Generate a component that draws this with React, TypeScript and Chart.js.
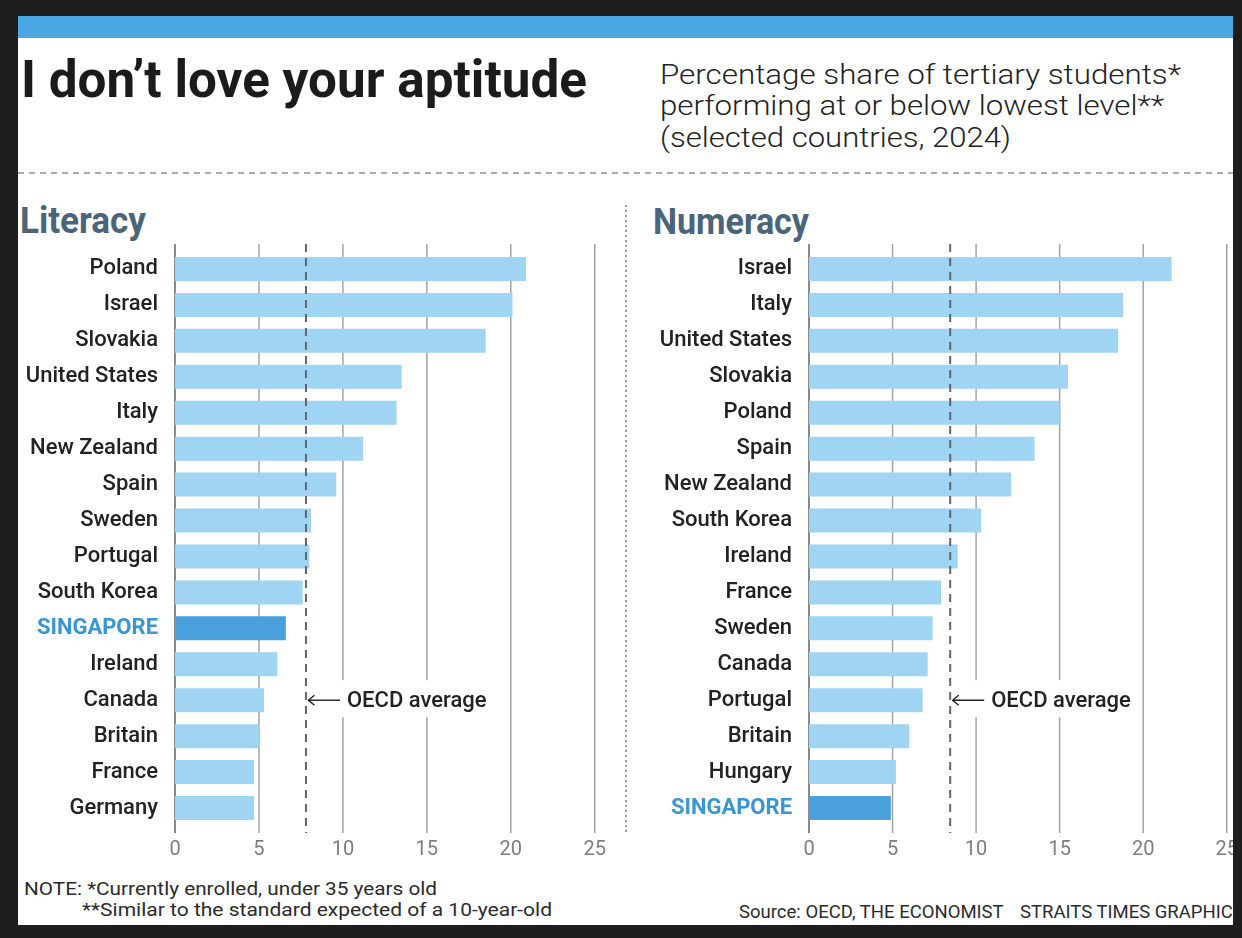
import React, { useEffect, useRef } from "react";
import { Chart, registerables } from "chart.js";

Chart.register(...registerables);

// ---------- DATA ----------
const literacyCountries = [
  "Poland", "Israel", "Slovakia", "United States", "Italy", "New Zealand", "Spain", "Sweden",
  "Portugal", "South Korea", "SINGAPORE", "Ireland", "Canada", "Britain", "France", "Germany",
];
const literacyValues = [20.9, 20.1, 18.5, 13.5, 13.2, 11.2, 9.6, 8.1, 8.0, 7.6, 6.6, 6.1, 5.3, 5.0, 4.7, 4.7];

const numeracyCountries = [
  "Israel", "Italy", "United States", "Slovakia", "Poland", "Spain", "New Zealand", "South Korea",
  "Ireland", "France", "Sweden", "Canada", "Portugal", "Britain", "Hungary", "SINGAPORE",
];
const numeracyValues = [21.7, 18.8, 18.5, 15.5, 15.0, 13.5, 12.1, 10.3, 8.9, 7.9, 7.4, 7.1, 6.8, 6.0, 5.2, 4.9];

const xTickValues = [0, 5, 10, 15, 20, 25];
const literacyOecdAverage = 7.8;
const numeracyOecdAverage = 8.45;
const oecdLabelRow = 12;
const oecdLabel = "OECD average";
const highlightCountry = "SINGAPORE";

const titleText = "I don\u2019t love your aptitude";
const subtitleLines = [
  "Percentage share of tertiary students*",
  "performing at or below lowest level**",
  "(selected countries, 2024)",
];
const noteLines = [
  "NOTE: *Currently enrolled, under 35 years old",
  "**Similar to the standard expected of a 10-year-old",
];
const sourceText = "Source: OECD, THE ECONOMIST";
const creditText = "STRAITS TIMES GRAPHICS";

// ---------- STYLE ----------
const FONT = "Roboto";
const OX = 18; // panel offset on page
const OY = 16;
const BAR_LIGHT = "#9fd4f3";
const BAR_HIGHLIGHT = "#4aa0da";
const LABEL_HIGHLIGHT = "#3a96d2";
const HEAD_COLOR = "#4a647a";

let measureCtx: CanvasRenderingContext2D | null = null;
function measure(text: string, font: string): number {
  if (!measureCtx) measureCtx = document.createElement("canvas").getContext("2d");
  measureCtx!.font = font;
  return measureCtx!.measureText(text).width;
}

function FitText(props: {
  text: string; x: number; baseline: number; size: number; weight?: number;
  color?: string; width?: number; scale?: number;
}) {
  const { text, x, baseline, size, weight = 400, color = "#222", width, scale } = props;
  const natural = measure(text, `${weight} ${size}px ${FONT}`);
  const sx = width ? width / natural : scale ?? 1;
  return (
    <div
      style={{
        position: "absolute",
        left: x - OX,
        top: baseline - 0.842 * size - OY,
        fontFamily: FONT,
        fontSize: size,
        fontWeight: weight,
        lineHeight: `${size}px`,
        color,
        whiteSpace: "nowrap",
        transform: `scaleX(${sx})`,
        transformOrigin: "0 0",
      }}
    >
      {text}
    </div>
  );
}

function BarPanel(props: {
  labels: string[]; values: number[]; avg: number;
  left: number; top: number; width: number; height: number;
  axisWidth: number; padRight: number; padTop: number;
}) {
  const { labels, values, avg, left, top, width, height, axisWidth, padRight, padTop } = props;
  const ref = useRef<HTMLCanvasElement>(null);

  useEffect(() => {
    const canvas = ref.current!;
    const overlay = {
      id: "overlay",
      beforeDatasetsDraw(chart: any) {
        const { ctx, chartArea, scales } = chart;
        ctx.save();
        for (const v of xTickValues) {
          const px = scales.x.getPixelForValue(v);
          ctx.beginPath();
          ctx.lineWidth = v === 0 ? 2 : 1.5;
          ctx.strokeStyle = v === 0 ? "#8a8a8a" : "#a3a3a3";
          ctx.moveTo(px, chartArea.top - 7);
          ctx.lineTo(px, chartArea.bottom + 7);
          ctx.stroke();
        }
        ctx.restore();
      },
      afterDatasetsDraw(chart: any) {
        const { ctx, chartArea, scales } = chart;
        const px = scales.x.getPixelForValue(avg);
        const py = scales.y.getPixelForValue(oecdLabelRow);
        ctx.save();
        ctx.font = `500 22px ${FONT}`;
        const tw = ctx.measureText(oecdLabel).width;
        const arrowStart = px + 2.5;
        const arrowEnd = px + 34;
        const textX = px + 41;
        ctx.fillStyle = "#ffffff";
        ctx.fillRect(px + 2, py - 20, textX + tw + 6 - (px + 2), 37);
        ctx.setLineDash([8, 6]);
        ctx.strokeStyle = "#5f6770";
        ctx.lineWidth = 2;
        ctx.beginPath();
        ctx.moveTo(px, chartArea.top - 7);
        ctx.lineTo(px, chartArea.bottom + 7);
        ctx.stroke();
        ctx.setLineDash([]);
        ctx.strokeStyle = "#222";
        ctx.lineWidth = 1.4;
        ctx.beginPath();
        ctx.moveTo(arrowEnd, py);
        ctx.lineTo(arrowStart, py);
        ctx.stroke();
        ctx.beginPath();
        ctx.moveTo(arrowStart + 6, py - 5);
        ctx.lineTo(arrowStart, py);
        ctx.lineTo(arrowStart + 6, py + 5);
        ctx.stroke();
        ctx.fillStyle = "#222";
        ctx.textAlign = "left";
        ctx.textBaseline = "alphabetic";
        ctx.fillText(oecdLabel, textX, py + 7);
        ctx.restore();
      },
    };

    const chart = new Chart(canvas, {
      type: "bar",
      data: {
        labels,
        datasets: [
          {
            data: values,
            backgroundColor: labels.map((l) => (l === highlightCountry ? BAR_HIGHLIGHT : BAR_LIGHT)),
            borderWidth: 0,
            barPercentage: 2 / 3,
            categoryPercentage: 1,
          },
        ],
      },
      options: {
        indexAxis: "y",
        responsive: false,
        animation: false,
        devicePixelRatio: 1,
        events: [],
        layout: { padding: { left: 0, right: padRight, top: padTop, bottom: 0 } },
        plugins: { legend: { display: false }, tooltip: { enabled: false }, title: { display: false } },
        scales: {
          x: {
            type: "linear",
            min: 0,
            max: 25,
            position: "bottom",
            border: { display: false },
            grid: { display: false, drawTicks: false },
            ticks: {
              stepSize: 5,
              padding: 12,
              color: "#7d7d7d",
              font: { family: FONT, size: 20, weight: "400" },
            },
            afterFit: (s: any) => {
              s.height = 34;
            },
          },
          y: {
            type: "category",
            border: { display: false },
            grid: { display: false, drawTicks: false },
            ticks: {
              padding: 17,
              autoSkip: false,
              color: (c: any) => (labels[c.index] === highlightCountry ? LABEL_HIGHLIGHT : "#222222"),
              font: (c: any) => ({
                family: FONT,
                size: 22,
                weight: labels[c.index] === highlightCountry ? "700" : "500",
              }),
            },
            afterFit: (s: any) => {
              s.width = axisWidth;
            },
          },
        },
      } as any,
      plugins: [overlay],
    });
    return () => chart.destroy();
  }, []);

  return (
    <canvas
      ref={ref}
      width={width}
      height={height}
      style={{ position: "absolute", left: left - OX, top: top - OY, width, height }}
    />
  );
}

export default function App() {
  const sourceScale = 265 / measure(sourceText, `400 18px ${FONT}`);
  return (
    <div
      style={{
        position: "fixed",
        left: 0,
        top: 0,
        width: 1242,
        height: 938,
        background: "#1e1e1e",
        overflow: "hidden",
      }}
    >
      <div
        style={{
          position: "absolute",
          left: OX,
          top: OY,
          width: 1233 - OX,
          height: 925 - OY,
          background: "#ffffff",
          overflow: "hidden",
        }}
      >
        {/* top blue band */}
        <div style={{ position: "absolute", left: 0, top: 0, width: "100%", height: 22, background: "#4ba8e4" }} />

        <FitText text={titleText} x={21} baseline={97.5} size={52} weight={700} color="#1b1b1b" width={566} />
        <FitText text={subtitleLines[0]} x={660} baseline={84.5} size={28} weight={300} color="#222222" width={521} />
        <FitText text={subtitleLines[1]} x={660} baseline={116} size={28} weight={300} color="#222222" width={504} />
        <FitText text={subtitleLines[2]} x={660} baseline={147.5} size={28} weight={300} color="#222222" width={351} />

        {/* dashed separator */}
        <div
          style={{
            position: "absolute",
            left: 0,
            top: 172 - OY,
            width: "100%",
            height: 1.5,
            backgroundImage: "repeating-linear-gradient(to right, #a8a8a8 0 6px, transparent 6px 11px)",
          }}
        />
        {/* dotted vertical separator */}
        <div
          style={{
            position: "absolute",
            left: 625 - OX,
            top: 205 - OY,
            width: 2,
            height: 630,
            backgroundImage: "repeating-linear-gradient(to bottom, #9a9a9a 0 2px, transparent 2px 5px)",
          }}
        />

        <FitText text="Literacy" x={20} baseline={233} size={36} weight={700} color={HEAD_COLOR} width={126} />
        <FitText text="Numeracy" x={653} baseline={234} size={36} weight={700} color={HEAD_COLOR} width={156} />

        <BarPanel
          labels={literacyCountries}
          values={literacyValues}
          avg={literacyOecdAverage}
          left={18}
          top={211}
          width={600}
          height={649}
          axisWidth={157}
          padRight={22}
          padTop={40}
        />
        <BarPanel
          labels={numeracyCountries}
          values={numeracyValues}
          avg={numeracyOecdAverage}
          left={630}
          top={211}
          width={620}
          height={649}
          axisWidth={179}
          padRight={20}
          padTop={40}
        />

        <FitText text={noteLines[0]} x={24} baseline={895} size={18} color="#2b2b2b" width={413} />
        <FitText text={noteLines[1]} x={82} baseline={916} size={18} color="#2b2b2b" width={470} />
        <FitText text={sourceText} x={739} baseline={918} size={18} color="#2b2b2b" width={265} />
        <FitText text={creditText} x={1020} baseline={918} size={18} color="#2b2b2b" scale={sourceScale} />
      </div>
    </div>
  );
}
